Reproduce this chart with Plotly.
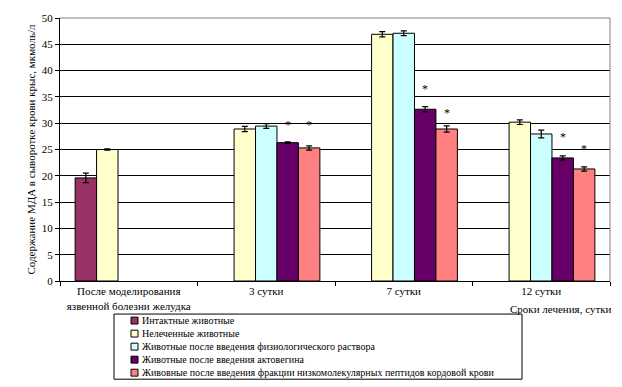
import plotly.graph_objects as go

categories = ["После моделирования<br>язвенной болезни желудка", "3 сутки", "7 сутки", "12 сутки"]

series_names = [
    "Интактные животные",
    "Нелеченные животные",
    "Животные после введения физиологического раствора",
    "Животные после введения актовегина",
    "Живовные после введения фракции низкомолекулярных пептидов кордовой крови",
]
series_colors = ["#993366", "#FFFFCC", "#CCFFFF", "#660066", "#FF8080"]

intact = [19.6, None, None, None]
untreated = [25.0, 28.9, 46.9, 30.2]
saline = [None, 29.45, 47.1, 27.95]
actovegin = [None, 26.3, 32.65, 23.4]
peptide = [None, 25.3, 28.9, 21.3]

intact_err = [0.9, 0, 0, 0]
untreated_err = [0.1, 0.5, 0.5, 0.45]
saline_err = [0, 0.45, 0.45, 0.75]
actovegin_err = [0, 0.15, 0.5, 0.4]
peptide_err = [0, 0.4, 0.6, 0.4]

# significance marks (asterisks) levels for actovegin and peptide series
actovegin_star = [None, 30.1, 36.8, 27.7]
peptide_star = [None, 30.1, 32.3, 25.4]

y_ticks = list(range(0, 51, 5))

values = [intact, untreated, saline, actovegin, peptide]
errors = [intact_err, untreated_err, saline_err, actovegin_err, peptide_err]

FONT = "Times New Roman"
W, H = 622, 387
ML, MR, MT, MB = 60, 12, 15, 105.5
PW = W - ML - MR
PH = H - MT - MB
BARGAP = 0.22

fig = go.Figure()
for name, col, vals, err in zip(series_names, series_colors, values, errors):
    fig.add_trace(go.Bar(
        x=categories, y=vals, name=name,
        marker=dict(color=col, line=dict(color="black", width=1)),
        error_y=dict(type="data", array=err, visible=True, color="black", thickness=1.2, width=3),
        showlegend=False,
    ))

# asterisks
slot_w = PW / len(categories) * (1 - BARGAP) / len(series_names)
annotations = []
for idx, stars in [(3, actovegin_star), (4, peptide_star)]:
    for cat, s in zip(categories, stars):
        if s is None:
            continue
        annotations.append(dict(
            x=cat, y=s, xref="x", yref="y", text="*", showarrow=False,
            xshift=(idx - 2) * slot_w, yshift=-2,
            font=dict(family=FONT, size=12, color="black"),
        ))

# y-axis title
annotations.append(dict(
    x=-30 / PW, y=0.5, xref="paper", yref="paper",
    text="Содержание МДА в сыворотке крови крыс, мкмоль/л",
    textangle=-90, showarrow=False, xanchor="center", yanchor="middle",
    font=dict(family=FONT, size=11, color="black"),
))
# x-axis title
annotations.append(dict(
    x=1, y=(MT + PH - 310) / PH, xref="paper", yref="paper",
    text="Сроки лечения, сутки", xanchor="right", yanchor="middle", xshift=4,
    showarrow=False, font=dict(family=FONT, size=11, color="black"),
))

def px_x(p):
    return (p - ML) / PW

def px_y(p):
    return (MT + PH - p) / PH

shapes = []
# plot area top/right border (grey)
shapes.append(dict(type="line", xref="paper", yref="paper", x0=0, x1=1, y0=1, y1=1,
                   line=dict(color="#808080", width=1), layer="above"))
shapes.append(dict(type="line", xref="paper", yref="paper", x0=1, x1=1, y0=0, y1=1,
                   line=dict(color="#808080", width=1), layer="above"))

# manual legend
box_l, box_r, box_t, box_b = 114, 522, 315, 381
shapes.append(dict(type="rect", xref="paper", yref="paper",
                   x0=px_x(box_l), x1=px_x(box_r), y0=px_y(box_b), y1=px_y(box_t),
                   line=dict(color="black", width=1), fillcolor="white"))
row_step = (box_b - box_t) / len(series_names)
for i, (name, col) in enumerate(zip(series_names, series_colors)):
    cy = box_t + row_step * (i + 0.5)
    shapes.append(dict(type="rect", xref="paper", yref="paper",
                       x0=px_x(131), x1=px_x(138), y0=px_y(cy + 3.5), y1=px_y(cy - 3.5),
                       line=dict(color="black", width=1), fillcolor=col))
    annotations.append(dict(
        x=px_x(140), y=px_y(cy), xref="paper", yref="paper", text=name,
        xanchor="left", yanchor="middle", showarrow=False,
        font=dict(family=FONT, size=10, color="black"),
    ))

fig.update_layout(
    width=W, height=H,
    margin=dict(l=ML, r=MR, t=MT, b=MB, pad=0),
    paper_bgcolor="white", plot_bgcolor="white",
    barmode="group", bargap=BARGAP, bargroupgap=0,
    font=dict(family=FONT, size=11, color="black"),
    xaxis=dict(
        showline=True, linecolor="black", linewidth=1,
        ticks="outside", ticklen=4, tickcolor="black", tickson="boundaries",
        tickfont=dict(family=FONT, size=11, color="black"),
        showgrid=False,
    ),
    yaxis=dict(
        range=[0, 50], tickvals=y_ticks, showline=True, linecolor="black", linewidth=1,
        ticks="outside", ticklen=4, tickcolor="black",
        showgrid=True, gridcolor="black", gridwidth=1, zeroline=False,
        tickfont=dict(family=FONT, size=11, color="black"),
    ),
    annotations=annotations,
    shapes=shapes,
    showlegend=False,
)

fig.write_html("out.html", config={"displayModeBar": False},
               post_script="document.body.style.margin='0';")
